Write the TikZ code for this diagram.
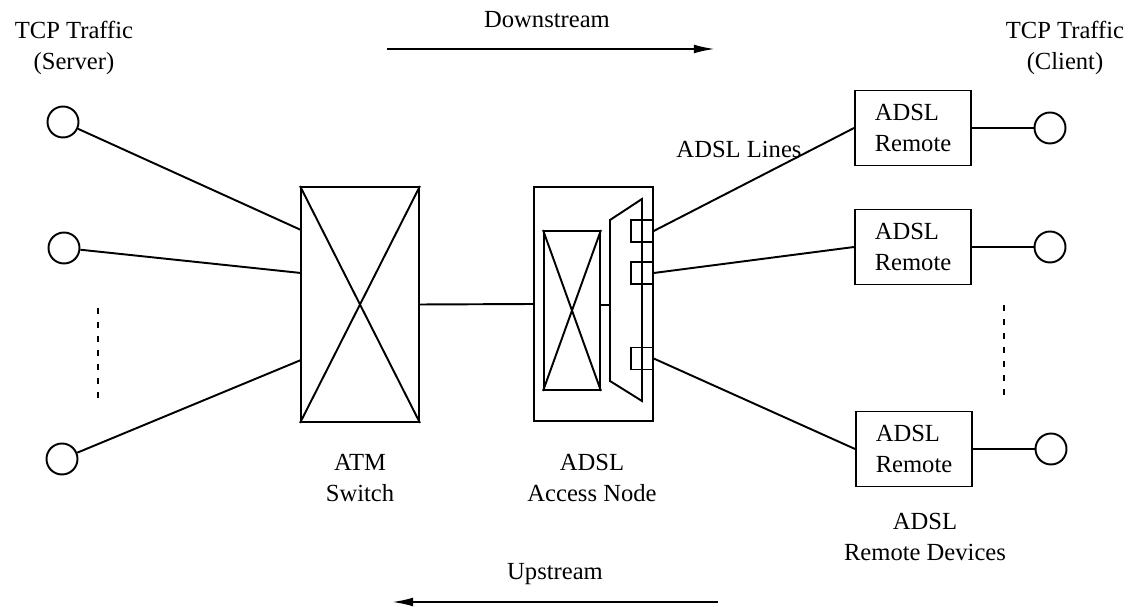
\documentclass[tikz,border=0pt]{standalone}
\usepackage{fontspec}
\setmainfont{Liberation Serif}
\usetikzlibrary{arrows.meta}

\begin{document}
\begin{tikzpicture}[x=0.02cm,y=-0.02cm,line width=1.1pt,
    every node/.style={font=\fontsize{14}{18}\selectfont},
    term/.style={draw,circle,minimum size=0.62cm,inner sep=0pt},
    xbox/.style={draw,rectangle,inner sep=0pt},
    remote/.style={draw,minimum width=2.32cm,minimum height=1.5cm,align=left,inner sep=0pt},
    port/.style={draw,minimum size=0.44cm,inner sep=0pt,line width=0.8pt},
    lbl/.style={align=center,inner sep=1pt},
    arr/.style={-{Latex[length=12pt,width=5pt]}},
    dots/.style={dash pattern=on 3.5pt off 4.5pt,line width=0.9pt}]
    \useasboundingbox (0,0) rectangle (1133,607);
    \node[lbl] (srvlbl) at (74,48) {TCP Traffic\\(Server)};
    \node[lbl] (clilbl) at (1065,48) {TCP Traffic\\(Client)};
    \node[lbl] (down) at (547,20) {Downstream};
    \node[lbl] (up) at (555,574) {Upstream};
    \coordinate (dsA) at (387,49);
    \coordinate (dsB) at (715,49);
    \coordinate (usA) at (718,602);
    \coordinate (usB) at (392,602);
    \draw[arr] (dsA) -- (dsB);
    \draw[arr] (usA) -- (usB);
    \node[term] (srvA) at (63,122) {};
    \node[term] (srvB) at (64,248) {};
    \node[term] (srvC) at (62,459) {};
    \node[xbox,minimum width=2.36cm,minimum height=4.7cm] (atm) at (360,304.5) {};
    \draw (atm.north west) -- (atm.south east) (atm.north east) -- (atm.south west);
    \coordinate (inA) at (301,230);
    \coordinate (inB) at (301,273);
    \coordinate (inC) at (301,360);
    \draw (srvA) -- (inA);
    \draw (srvB) -- (inB);
    \draw (srvC) -- (inC);
    \coordinate (dotsA) at (98,308);
    \coordinate (dotsB) at (98,398);
    \draw[dots] (dotsA) -- (dotsB);
    \node[xbox,minimum width=2.38cm,minimum height=4.68cm] (an) at (593.5,304) {};
    \node[xbox,minimum width=1.12cm,minimum height=3.18cm] (mux) at (572,310.5) {};
    \draw (mux.north west) -- (mux.south east) (mux.north east) -- (mux.south west);
    \draw (atm.east) -- (an.west);
    \draw (610,220) coordinate (trapA) -- (642,199) -- (642,401) -- (610,381) -- cycle;
    \coordinate (muxout) at (600,305);
    \draw (muxout) -- (muxout -| trapA);
    \node[port] (portA) at (642,231) {};
    \node[port] (portB) at (642,273) {};
    \node[port] (portC) at (642,358.5) {};
    \node[lbl] (atmlbl) at (360,478) {ATM\\Switch};
    \node[lbl] (anlbl) at (592,478) {ADSL\\Access Node};
    \node[remote] (remA) at (913,128) {ADSL\\Remote};
    \node[remote] (remB) at (913,247) {ADSL\\Remote};
    \node[remote] (remC) at (914,449) {ADSL\\Remote};
    \draw (portA.east) -- (remA.west);
    \draw (portB.east) -- (remB.west);
    \draw (portC.east) -- (remC.west);
    \node[lbl] (lines) at (739,149) {ADSL Lines};
    \node[lbl] (remlbl) at (925,537) {ADSL\\Remote Devices};
    \node[term] (cliA) at (1050,128) {};
    \node[term] (cliB) at (1050,247) {};
    \node[term] (cliC) at (1051,449) {};
    \draw (remA) -- (cliA);
    \draw (remB) -- (cliB);
    \draw (remC) -- (cliC);
    \coordinate (dotsC) at (1004,305);
    \coordinate (dotsD) at (1004,398);
    \draw[dots] (dotsC) -- (dotsD);
  \end{tikzpicture}
\end{document}
